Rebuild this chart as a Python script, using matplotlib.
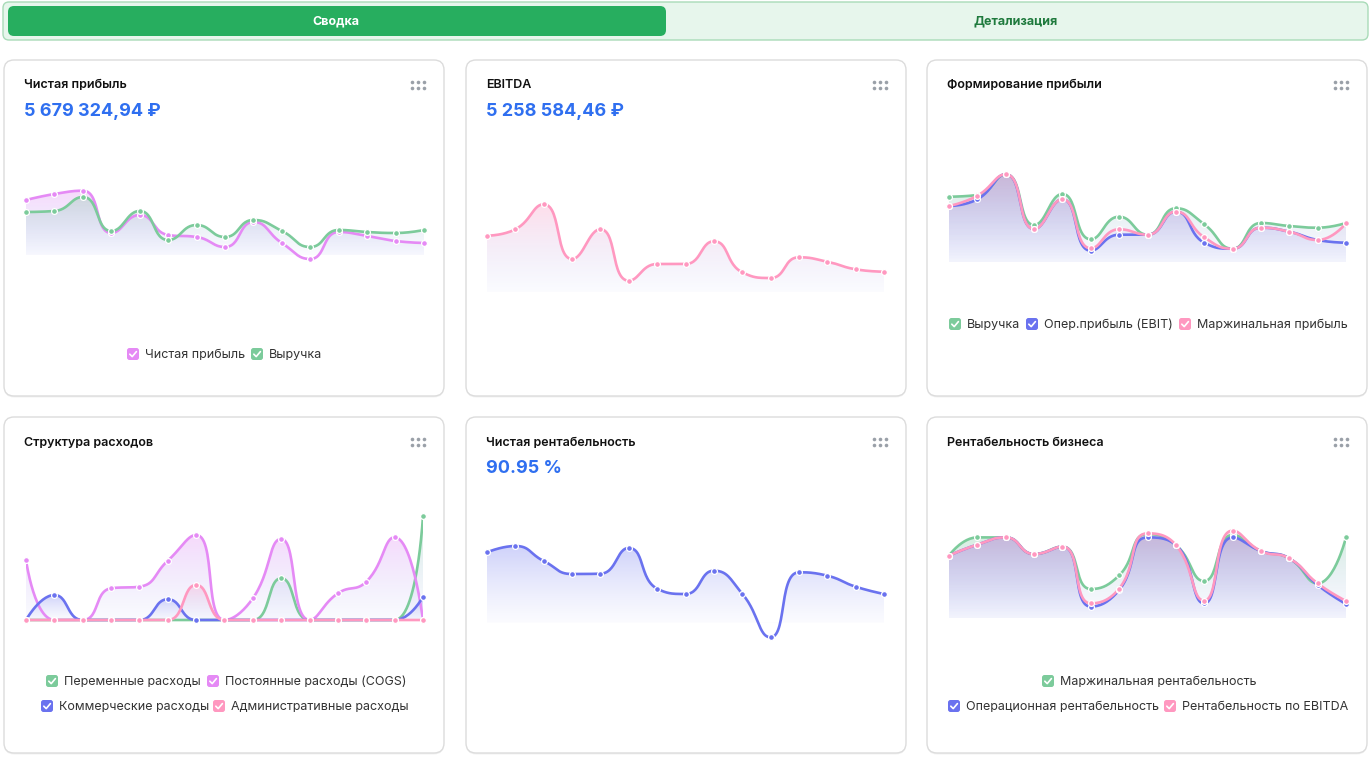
import numpy as np
import matplotlib.pyplot as plt
from matplotlib.patches import FancyBboxPatch, Polygon

plt.rcParams['font.family'] = ['Inter', 'DejaVu Sans']

W, H = 1371, 757

# ---- data (15 periods per chart) ----
net_profit = [1000, 1060, 1093, 670, 850, 650, 630, 530, 780, 570, 410, 680, 640, 590, 570]
revenue = [880, 890, 1030, 690, 890, 600, 750, 630, 800, 690, 530, 700, 680, 670, 700]

ebitda = [643, 707, 957, 410, 707, 193, 360, 360, 587, 277, 220, 427, 383, 307, 283]

form_revenue = [1033, 1050, 1257, 750, 1060, 607, 833, 653, 917, 757, 513, 770, 740, 723, 770]
form_ebit = [940, 1007, 1257, 710, 1007, 493, 653, 653, 883, 573, 513, 723, 683, 600, 573]
form_margin = [940, 1043, 1257, 710, 1007, 517, 707, 653, 883, 627, 513, 723, 683, 600, 767]

cost_var = [0, 0, 0, 0, 0, 0, 0, 0, 0, 417, 0, 0, 0, 0, 1040]
cost_fixed = [600, 0, 0, 317, 333, 593, 850, 0, 217, 810, 0, 267, 383, 827, 0]
cost_comm = [0, 250, 0, 0, 0, 207, 0, 0, 0, 0, 0, 0, 0, 0, 233]
cost_admin = [0, 0, 0, 0, 0, 0, 350, 0, 0, 0, 0, 0, 0, 0, 0]

net_margin = [91.5, 99.7, 80.2, 63.3, 63.7, 97.1, 44.2, 37.3, 67.6, 37.7, -19.0, 65.5, 61.1, 46.8, 37.3]

rent_margin = [31.2, 40.3, 40.3, 32.0, 35.7, 14.5, 21.3, 42.0, 36.5, 18.5, 41.5, 33.5, 29.8, 17.3, 40.3]
rent_oper = [31.2, 36.7, 40.3, 32.0, 35.7, 5.7, 14.0, 40.3, 36.5, 7.3, 40.3, 33.5, 29.8, 16.5, 7.0]
rent_ebitda = [31.2, 36.7, 40.3, 32.0, 35.7, 7.3, 14.7, 42.3, 36.5, 8.7, 43.7, 33.5, 29.8, 17.3, 8.5]

GREEN = '#7ccb9b'
PURPLE = '#e58af5'
BLUE = '#6a72ef'
PINK = '#ff98c0'
LAV = np.array([0.60, 0.64, 0.95])

fig = plt.figure(figsize=(W / 100, H / 100), dpi=100)
fig.patch.set_facecolor('white')
bg = fig.add_axes([0, 0, 1, 1])
bg.set_xlim(0, W)
bg.set_ylim(H, 0)
bg.axis('off')


def rbox(x0, y0, x1, y1, r, fc, ec='none', lw=1, z=1, alpha=1):
    p = FancyBboxPatch((x0 + r, y0 + r), x1 - x0 - 2 * r, y1 - y0 - 2 * r,
                       boxstyle='round,pad=%g' % r, fc=fc, ec=ec, lw=lw,
                       zorder=z, alpha=alpha)
    bg.add_patch(p)


# tabs
rbox(3, 2, 1368, 40, 6, '#e7f6ec', '#a9dbb8', 1)
rbox(8, 6, 666, 36, 6, '#27ae5f', z=2)
bg.text(336, 21, 'Сводка', color='white', fontsize=9, fontweight='bold',
        ha='center', va='center', zorder=3)
bg.text(1016, 21, 'Детализация', color='#1f7a3d', fontsize=9, fontweight='bold',
        ha='center', va='center', zorder=3)

cols = [(4, 444), (466, 906), (927, 1367)]
rows = [(60, 396), (417, 753)]
titles = [['Чистая прибыль', 'EBITDA', 'Формирование прибыли'],
          ['Структура расходов', 'Чистая рентабельность', 'Рентабельность бизнеса']]
values = [['5 679 324,94 ₽', '5 258 584,46 ₽', None], [None, '90.95 %', None]]

for ri, (y0, y1) in enumerate(rows):
    for ci, (x0, x1) in enumerate(cols):
        rbox(x0, y0 + 1.5, x1, y1 + 1.5, 10, '#000000', z=1, alpha=0.05)
        rbox(x0, y0, x1, y1, 10, 'white', '#dcdcdc', 1, z=2)
        bg.text(x0 + 20, y0 + 25.5, titles[ri][ci], fontsize=9, fontweight='semibold',
                color='#111111', va='center', zorder=3)
        if values[ri][ci]:
            bg.text(x0 + 20, y0 + 51.5, values[ri][ci], fontsize=13, fontweight='bold',
                    color='#2f6ff0', va='center', zorder=3)
        for dx in (-6, 0, 6):
            for dy in (-3, 3):
                bg.plot(x1 - 26 + dx, y0 + 25 + dy, 'o', ms=2.6, color='#9aa0a8',
                        mec='none', zorder=3)


def legend_item(x, y, color, label):
    rbox(x - 6, y - 6, x + 6, y + 6, 2.5, color, z=3)
    bg.plot([x - 3.2, x - 0.8, x + 3.4], [y + 0.2, y + 2.6, y - 2.4], color='white',
            lw=1.2, solid_capstyle='round', zorder=4)
    bg.text(x + 12, y + 1, label, fontsize=9, color='#333333', va='center', zorder=3)


def smooth_curve(px, py, smooth=0.5):
    # echarts-like bezier smoothing, control points clamped to neighbours
    n = len(px)
    out_x, out_y = [px[0]], [py[0]]
    cpx0, cpy0 = px[0], py[0]
    t = np.linspace(0, 1, 30)[1:]
    for i in range(1, n):
        x, y = px[i], py[i]
        prevX, prevY = px[i - 1], py[i - 1]
        if i == n - 1:
            cpx1, cpy1 = x, y
            ncx, ncy = x, y
        else:
            nextX, nextY = px[i + 1], py[i + 1]
            vx, vy = nextX - prevX, nextY - prevY
            lp = np.hypot(x - prevX, y - prevY)
            ln = np.hypot(nextX - x, nextY - y)
            ratio = ln / (ln + lp)
            ncx = x + vx * smooth * ratio
            ncy = y + vy * smooth * ratio
            ncx = min(max(ncx, min(nextX, x)), max(nextX, x))
            ncy = min(max(ncy, min(nextY, y)), max(nextY, y))
            vx, vy = ncx - x, ncy - y
            cpx1 = x - vx * lp / ln
            cpy1 = y - vy * lp / ln
            cpx1 = min(max(cpx1, min(prevX, x)), max(prevX, x))
            cpy1 = min(max(cpy1, min(prevY, y)), max(prevY, y))
            vx, vy = x - cpx1, y - cpy1
            ncx = x + vx * ln / lp
            ncy = y + vy * ln / lp
        bx = ((1 - t) ** 3 * prevX + 3 * (1 - t) ** 2 * t * cpx0
              + 3 * (1 - t) * t ** 2 * cpx1 + t ** 3 * x)
        by = ((1 - t) ** 3 * prevY + 3 * (1 - t) ** 2 * t * cpy0
              + 3 * (1 - t) * t ** 2 * cpy1 + t ** 3 * y)
        out_x.extend(bx)
        out_y.extend(by)
        cpx0, cpy0 = ncx, ncy
    return np.array(out_x), np.array(out_y)


def chart(box, ylim, floor, series):
    x0, x1, y0, y1 = box
    ax = fig.add_axes([x0 / W, 1 - y1 / H, (x1 - x0) / W, (y1 - y0) / H])
    ax.set_xlim(0, 14)
    ax.set_ylim(*ylim)
    ax.axis('off')
    ax.patch.set_alpha(0)
    idx = np.arange(15)
    z = 1
    for vals, color in series:
        vals = np.asarray(vals, float)
        disp = ax.transData.transform(np.column_stack([idx, vals]))
        sx, sy = smooth_curve(disp[:, 0], disp[:, 1])
        data = ax.transData.inverted().transform(np.column_stack([sx, sy]))
        dx, dy = data[:, 0], data[:, 1]
        verts = list(zip(dx, dy)) + [(14, floor), (0, floor)]
        poly = Polygon(verts, closed=True, fc='none', ec='none', transform=ax.transData)
        ax.add_patch(poly)
        c = np.array(plt.matplotlib.colors.to_rgb(color))
        k = np.linspace(0, 1, 128)[:, None]
        grad = np.zeros((128, 1, 4))
        grad[:, 0, :3] = c * (1 - k) + LAV * k
        grad[:, 0, 3] = (0.32 * (1 - k) + 0.04 * k)[:, 0]
        top = max(vals.max(), floor + 1e-6)
        im = ax.imshow(grad, extent=[0, 14, floor, top], aspect='auto', origin='upper',
                       zorder=z, interpolation='bilinear')
        im.set_clip_path(poly)
        ax.plot(dx, dy, color=color, lw=1.9, zorder=z + 10, solid_capstyle='round')
        ax.plot(idx, vals, 'o', color=color, ms=4.2, mec='white', mew=0.9,
                zorder=z + 20, clip_on=False)
        z += 1
    ax.set_xlim(0, 14)
    ax.set_ylim(*ylim)
    return ax


chart((26, 424, 140, 275), (250, 1600), 450, [(net_profit, PURPLE), (revenue, GREEN)])
chart((487, 884, 180, 300), (0, 1200), 80, [(ebitda, PINK)])
chart((949, 1346, 150, 275), (250, 1500), 380,
      [(form_revenue, GREEN), (form_ebit, BLUE), (form_margin, PINK)])
chart((26, 423, 500, 630), (-100, 1200), 0,
      [(cost_var, GREEN), (cost_fixed, PURPLE), (cost_comm, BLUE), (cost_admin, PINK)])
chart((487, 884, 520, 645), (-29, 133.5), 0, [(net_margin, BLUE)])
chart((949, 1346, 510, 625), (-3.5, 54), 0,
      [(rent_margin, GREEN), (rent_oper, BLUE), (rent_ebitda, PINK)])

# legends
legend_item(133, 354, PURPLE, 'Чистая прибыль')
legend_item(257, 354, GREEN, 'Выручка')

legend_item(955, 324, GREEN, 'Выручка')
legend_item(1032, 324, BLUE, 'Опер.прибыль (EBIT)')
legend_item(1185, 324, PINK, 'Маржинальная прибыль')

legend_item(52, 681, GREEN, 'Переменные расходы')
legend_item(213, 681, PURPLE, 'Постоянные расходы (COGS)')
legend_item(47, 706, BLUE, 'Коммерческие расходы')
legend_item(219, 706, PINK, 'Административные расходы')

legend_item(1048, 681, GREEN, 'Маржинальная рентабельность')
legend_item(954, 706, BLUE, 'Операционная рентабельность')
legend_item(1170, 706, PINK, 'Рентабельность по EBITDA')

fig.savefig('out.png', dpi=100)
